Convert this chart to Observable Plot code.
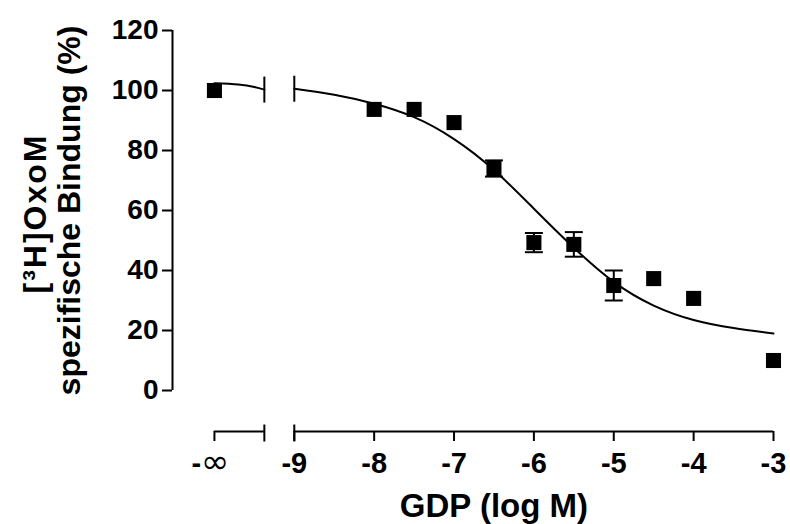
<!DOCTYPE html>
<html><head><meta charset="utf-8">
<script src="https://cdn.jsdelivr.net/npm/d3@7"></script>
<script src="https://cdn.jsdelivr.net/npm/@observablehq/plot@0.6"></script>
<style>
html,body{margin:0;padding:0;background:#fff;}
</style>
</head><body><div id="chart"></div>
<script>
// ---- axis ticks / labels ----
const xTicks = [-10, -9, -8, -7, -6, -5, -4, -3];
const xTickLabels = ["-∞", "-9", "-8", "-7", "-6", "-5", "-4", "-3"];
const yTicks = [0, 20, 40, 60, 80, 100, 120];
// broken x axis: segment starts and ends (log M; -10 stands for -∞)
const segStart = [-10, -9];
const segEnd = [-9.375, -3];
// ---- measured points (mean ± error) ----
const pointX = [-10, -8, -7.5, -7, -6.5, -6, -5.5, -5, -4.5, -4, -3];
const pointY = [100, 93.7, 93.7, 89.3, 74, 49.3, 48.7, 35, 37.3, 30.7, 10];
const pointErr = [0, 0, 0, 0, 2.7, 3.2, 4.1, 5, 0, 0, 0];
// ---- fitted curve ----
const curveSeg = [0, 0, 0, 0, 1, 1, 1, 1, 1, 1, 1, 1, 1, 1, 1, 1, 1];
const curveX = [-10, -9.7, -9.5, -9.375, -9, -8.5, -8, -7.5, -7, -6.5, -6, -5.5, -5, -4.5, -4, -3.5, -3];
const curveY = [102.4, 102.0, 101.2, 100.3, 100.6, 98.6, 95.6, 91.1, 83.8, 73.5, 60.6, 47.6, 36.2, 28.3, 23.5, 20.8, 19];
// break marks on the curve
const breakX = [-9.375, -9];
const breakY = [100.3, 100.6];
// ---- texts ----
const xTitle = "GDP (log M)";
const yTitle1 = "[³H]OxoM";
const yTitle2 = "spezifische Bindung (%)";

// ---- derived tables ----
const points = pointX.map((x, i) => ({x, y: pointY[i], e: pointErr[i]}));
const errs = points.filter(d => d.e > 0);
const caps = errs.flatMap(d => [{x: d.x, y: d.y - d.e}, {x: d.x, y: d.y + d.e}]);
const curve = curveX.map((x, i) => ({x, y: curveY[i], s: curveSeg[i]}));
const segments = segStart.map((s, i) => ({x1: s, x2: segEnd[i]}));
const breaks = breakX.map((x, i) => ({x, y: breakY[i]}));

const xDomain = [-10.525, -3];
const yDomain = [yTicks[0], yTicks[yTicks.length - 1]];
const axisGap = 41;
const font = "'Liberation Sans', Arial, Helvetica, sans-serif";

// custom line symbols (pixel sized)
const vline = (a, b) => ({draw(ctx) { ctx.moveTo(0, a); ctx.lineTo(0, b); }});
const hline = (w) => ({draw(ctx) { ctx.moveTo(-w, 0); ctx.lineTo(w, 0); }});

const plot = Plot.plot({
  width: 790,
  height: 524,
  marginLeft: 172,
  marginRight: 17,
  marginTop: 30,
  marginBottom: 93,
  style: {fontFamily: font, fontWeight: "bold", background: "#fff", color: "#000", overflow: "visible"},
  x: {domain: xDomain},
  y: {domain: yDomain, range: [390, 30]},
  marks: [
    // y axis
    Plot.axisY({ticks: yTicks, tickSize: 10, tickPadding: 4, fontSize: 28, tickFormat: d => String(d), label: null, strokeWidth: 2}),
    Plot.ruleX([xDomain[0]], {y1: yDomain[0], y2: yDomain[1], strokeWidth: 2}),
    // x axis (broken)
    Plot.axisX({ticks: xTicks, tickSize: 10, tickPadding: 11, fontSize: 29, tickFormat: d => xTickLabels[xTicks.indexOf(d)], label: null, strokeWidth: 2}),
    Plot.ruleY(segments, {x1: "x1", x2: "x2", y: yDomain[0], dy: axisGap, strokeWidth: 2}),
    Plot.dot(breakX, {x: d => d, y: yDomain[0], dy: axisGap, symbol: vline(-7, 10), r: 5, stroke: "black", strokeWidth: 2, fill: "none"}),
    // fitted curve
    Plot.line(curve, {x: "x", y: "y", z: "s", curve: "natural", stroke: "black", strokeWidth: 2}),
    Plot.dot(breaks, {x: "x", y: "y", symbol: vline(-13, 13), r: 5, stroke: "black", strokeWidth: 2, fill: "none"}),
    // error bars
    Plot.ruleX(errs, {x: "x", y1: d => d.y - d.e, y2: d => d.y + d.e, strokeWidth: 2}),
    Plot.dot(caps, {x: "x", y: "y", symbol: hline(9), r: 5, stroke: "black", strokeWidth: 2, fill: "none"}),
    // points
    Plot.dot(points, {x: "x", y: "y", symbol: "square", r: 8.5, fill: "black", stroke: "none"}),
    // titles
    Plot.text([xTitle], {x: d3.mean([xTicks[0], xTicks[xTicks.length - 1]]), frameAnchor: "bottom", dy: 85, lineAnchor: "bottom", text: d => d, fontSize: 33, fontWeight: "bold"}),
    Plot.text([yTitle1], {x: xDomain[0], y: d3.mean(yDomain) - 1, dx: -137, rotate: -90, lineAnchor: "middle", text: d => d, fontSize: 32, fontWeight: "bold"}),
    Plot.text([yTitle2], {x: xDomain[0], y: d3.mean(yDomain), dx: -103, rotate: -90, lineAnchor: "middle", text: d => d, fontSize: 32, fontWeight: "bold"})
  ]
});

const svg = d3.select(plot);
// "-∞": light infinity sign as in the original
svg.selectAll("text").filter(function() { return this.textContent === "-∞"; }).each(function() {
  const t = d3.select(this);
  t.text(null);
  t.append("tspan").attr("dx", -4).text("-");
  t.append("tspan").attr("font-weight", "normal").attr("font-family", "'DejaVu Sans', sans-serif").attr("font-size", 34).text("∞");
});
// wider spacing for the first y-title line
svg.selectAll("text").filter(function() { return this.textContent === yTitle1; }).attr("letter-spacing", 2);

document.getElementById("chart").appendChild(plot);
</script>
</body></html>
